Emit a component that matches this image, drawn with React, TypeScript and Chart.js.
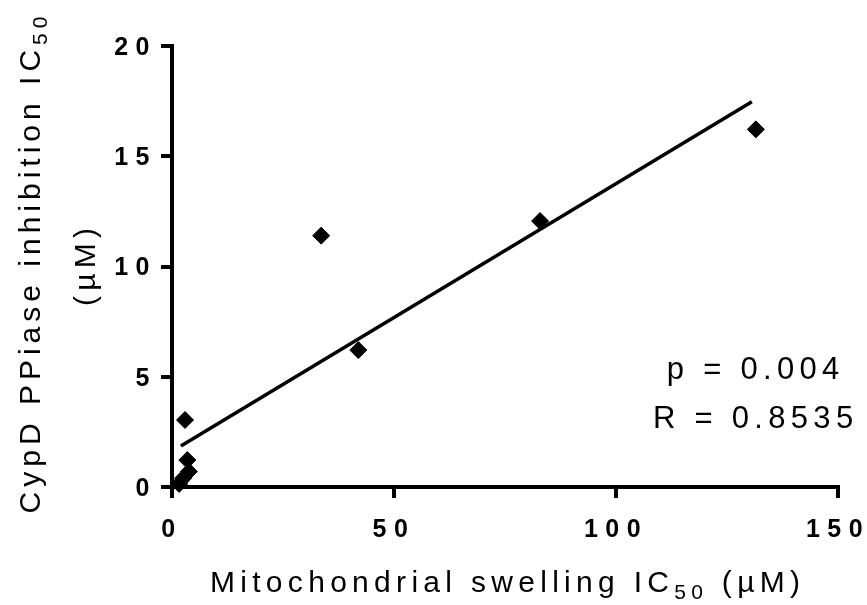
import React, { useEffect, useRef } from "react";
import { Chart, registerables } from "chart.js";

Chart.register(...registerables);

// ---- data ----
const swellingIC50 = [131.5, 82.9, 33.6, 41.96, 2.93, 3.45, 3.8, 2.5, 1.6];
const ppiaseIC50 = [16.22, 12.06, 11.4, 6.21, 3.04, 1.22, 0.7, 0.4, 0.14];
const fitX = [2.0, 130.6];
const fitY = [1.86, 17.47];
const xTicks = [0, 50, 100, 150];
const yTicks = [0, 5, 10, 15, 20];
const annotations = ["p = 0.004", "R = 0.8535"];
const xTitle = ["Mitochondrial swelling IC", "50", " (\u00B5M)"];
const yTitle1 = ["CypD PPiase inhibition IC", "50"];
const yTitle2 = "(\u00B5M)";

const FAMILY = "'Liberation Sans', Arial, sans-serif";
const TICK_LS = "7.5px";

type Seg = { text: string; size: number; dy: number };

function drawRich(ctx: CanvasRenderingContext2D, segs: Seg[], cx: number, y: number, ls: number) {
  (ctx as any).letterSpacing = ls + "px";
  let total = 0;
  const widths = segs.map((s) => {
    ctx.font = `${s.size}px ${FAMILY}`;
    const w = ctx.measureText(s.text).width;
    total += w;
    return w;
  });
  total -= ls;
  let x = cx - total / 2;
  segs.forEach((s, i) => {
    ctx.font = `${s.size}px ${FAMILY}`;
    ctx.fillText(s.text, x, y + s.dy);
    x += widths[i];
  });
}

const textPlugin = {
  id: "customText",
  beforeUpdate(chart: any) {
    chart.ctx.letterSpacing = TICK_LS;
  },
  beforeDraw(chart: any) {
    chart.ctx.letterSpacing = TICK_LS;
  },
  afterDraw(chart: any) {
    const ctx: CanvasRenderingContext2D = chart.ctx;
    const area = chart.chartArea;
    ctx.save();
    ctx.fillStyle = "#000";
    ctx.textAlign = "left";
    ctx.textBaseline = "alphabetic";
    // x title
    drawRich(
      ctx,
      [
        { text: xTitle[0], size: 30, dy: 0 },
        { text: xTitle[1], size: 21, dy: 7 },
        { text: xTitle[2], size: 30, dy: 0 },
      ],
      (area.left + area.right) / 2,
      592,
      5.3
    );
    // annotations
    drawRich(ctx, [{ text: annotations[0], size: 31, dy: 0 }], 753, 379, 5.3);
    drawRich(ctx, [{ text: annotations[1], size: 31, dy: 0 }], 753, 428, 5.3);
    // y title (rotated)
    ctx.save();
    ctx.translate(40, 265);
    ctx.rotate(-Math.PI / 2);
    drawRich(
      ctx,
      [
        { text: yTitle1[0], size: 30, dy: 0 },
        { text: yTitle1[1], size: 21, dy: 7 },
      ],
      0,
      0,
      5.0
    );
    ctx.restore();
    ctx.save();
    ctx.translate(95, 267);
    ctx.rotate(-Math.PI / 2);
    drawRich(ctx, [{ text: yTitle2, size: 30, dy: 0 }], 0, 0, 5.3);
    ctx.restore();
    ctx.restore();
  },
};

export default function App() {
  const ref = useRef<HTMLCanvasElement | null>(null);

  useEffect(() => {
    if (!ref.current) return;
    const chart = new Chart(ref.current, {
      type: "scatter",
      data: {
        datasets: [
          {
            type: "line",
            data: fitX.map((x, i) => ({ x, y: fitY[i] })),
            borderColor: "#000",
            borderWidth: 3.5,
            pointRadius: 0,
            fill: false,
            clip: false as any,
          } as any,
          {
            data: swellingIC50.map((x, i) => ({ x, y: ppiaseIC50[i] })),
            pointStyle: "rectRot",
            pointRadius: 8.5,
            pointBorderWidth: 1,
            pointBackgroundColor: "#000",
            pointBorderColor: "#000",
            clip: false as any,
          } as any,
        ],
      },
      options: {
        animation: false,
        responsive: false,
        events: [],
        layout: { padding: { top: 46, right: 29, left: 0, bottom: 0 } },
        plugins: { legend: { display: false }, tooltip: { enabled: false } },
        scales: {
          x: {
            type: "linear",
            min: 0,
            max: 150,
            afterBuildTicks: (s: any) => {
              s.ticks = xTicks.map((v) => ({ value: v }));
            },
            afterFit: (s: any) => {
              s.height = 118;
              s.paddingLeft = 0;
              s.paddingRight = 0;
            },
            grid: {
              display: true,
              drawOnChartArea: false,
              drawTicks: true,
              tickLength: 11,
              color: "#000",
              lineWidth: 4,
            },
            border: { display: true, color: "#000", width: 4 },
            ticks: {
              color: "#000",
              padding: 17,
              maxRotation: 0,
              font: { family: FAMILY, size: 25, weight: "bold" },
            },
          },
          y: {
            type: "linear",
            min: 0,
            max: 20,
            afterBuildTicks: (s: any) => {
              s.ticks = yTicks.map((v) => ({ value: v }));
            },
            afterFit: (s: any) => {
              s.width = 172;
              s.paddingTop = 0;
              s.paddingBottom = 0;
            },
            grid: {
              display: true,
              drawOnChartArea: false,
              drawTicks: true,
              tickLength: 11,
              color: "#000",
              lineWidth: 4,
            },
            border: { display: true, color: "#000", width: 4 },
            ticks: {
              color: "#000",
              padding: 4,
              labelOffset: 2,
              font: { family: FAMILY, size: 25, weight: "bold" },
            },
          },
        },
      } as any,
      plugins: [textPlugin as any],
    });
    return () => chart.destroy();
  }, []);

  return (
    <div style={{ position: "fixed", left: 0, top: 0, width: 867, height: 605, background: "#fff" }}>
      <canvas ref={ref} width={867} height={605} style={{ display: "block" }} />
    </div>
  );
}
